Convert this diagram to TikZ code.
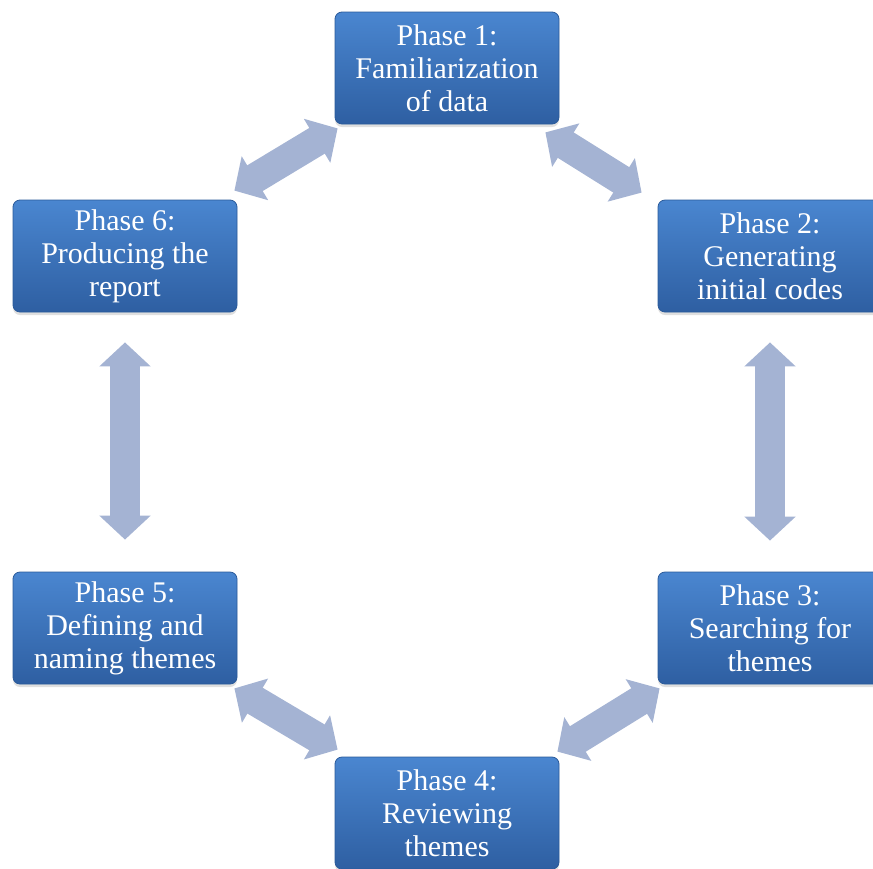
\documentclass[tikz,border=0pt]{standalone}
\usepackage{fontspec}
\setmainfont{Liberation Serif}
\usetikzlibrary{calc,shadows,arrows.meta}
\definecolor{boxtop}{HTML}{4A86D0}
\definecolor{boxbot}{HTML}{2E5FA2}
\definecolor{boxline}{HTML}{2A5A9A}
\definecolor{linkcol}{HTML}{A4B3D3}

\begin{document}
\begin{tikzpicture}[x=1pt, y=-1pt,
	phase/.style={draw=boxline, line width=0.8pt, rounded corners=7pt,
		top color=boxtop, bottom color=boxbot,
		minimum width=224pt, minimum height=112pt, inner sep=0pt,
		align=center, text=white, font=\fontsize{30}{33}\selectfont,
		drop shadow={opacity=0.25, shadow xshift=0pt, shadow yshift=-3pt}},
	link/.style={draw=linkcol, line width=30pt,
		{Triangle[width=50pt,length=24pt]}-{Triangle[width=50pt,length=24pt]}}]
		\useasboundingbox (0,0) rectangle (873,868);

		\path (447,68) node[phase] (p1) {Phase 1:\\Familiarization\\of data}
		(770,256) node[phase] (p2) {Phase 2:\\Generating\\initial codes}
		(770,628) node[phase] (p3) {Phase 3:\\Searching for\\themes}
		(447,813) node[phase] (p4) {Phase 4:\\Reviewing\\themes}
		(125,628) node[phase] (p5) {Phase 5:\\Defining and\\naming themes}
		(125,256) node[phase] (p6) {Phase 6:\\Producing the\\report};

		\draw[link] ($(p6.north east)+(-3,-9)$) -- ($(p1.south west)+(3,4)$);
		\draw[link] ($(p1.south east)+(-14,8)$) -- ($(p2.north west)+(-16,-7)$);
		\draw[link] ($(p2.south)+(0,30)$) -- ($(p3.north)+(0,-31)$);
		\draw[link] ($(p3.south west)+(2,4)$) -- ($(p4.north east)+(-2,-5)$);
		\draw[link] ($(p4.north west)+(3,-7)$) -- ($(p5.south east)+(-3,4)$);
		\draw[link] ($(p5.north)+(0,-32)$) -- ($(p6.south)+(0,30)$);

	\end{tikzpicture}
\end{document}
